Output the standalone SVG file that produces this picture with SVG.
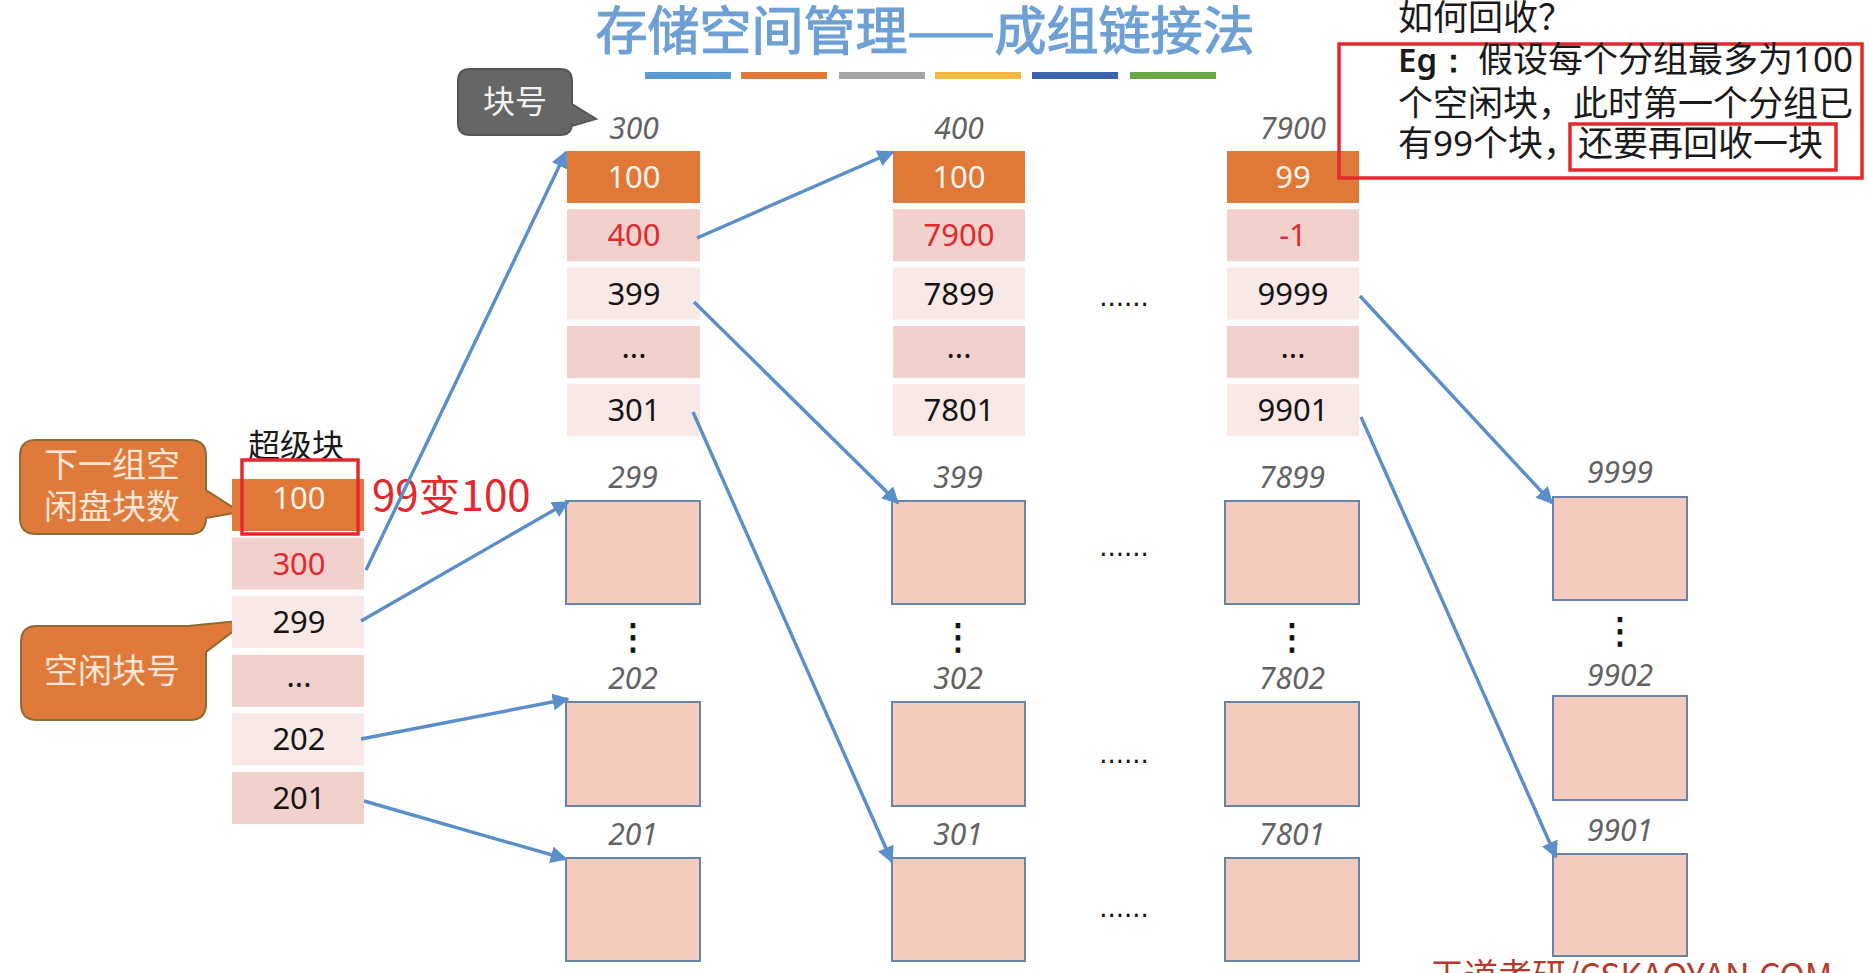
<svg xmlns="http://www.w3.org/2000/svg" width="1869" height="973" viewBox="0 0 1869 973">
<style>
.title{font-family:"Noto Sans CJK SC","Noto Sans",sans-serif;font-size:52px;font-weight:400;fill:#6ea0d4;stroke:#6ea0d4;stroke-width:1.2}
.num{font-family:"Noto Sans","Open Sans",sans-serif;font-size:31px;text-anchor:middle}
.lbl{font-family:"Noto Sans","Open Sans",sans-serif;font-size:30px;font-style:italic;fill:#626262;text-anchor:middle}
.cjk{font-family:"Noto Sans CJK SC",sans-serif}
.ora{fill:#e07838}
.pk{fill:#f2d1cc}
.lt{fill:#f9e9e6}
.w{fill:#fff3ea}
.r{fill:#e3282e}
.k{fill:#141414}
.box{fill:#f5cbbd;stroke:#6585aa;stroke-width:2}
.dots{font-family:"DejaVu Sans",sans-serif;font-size:26px;fill:#111;text-anchor:middle}
.vd{font-family:"Noto Sans","DejaVu Sans",sans-serif;font-size:36px;fill:#111;stroke:#111;stroke-width:0.8;text-anchor:middle}
.conn line{stroke:#5a8fca;stroke-width:3.4;marker-end:url(#ah)}
.note{font-family:"Noto Sans CJK SC",sans-serif;font-size:35px;fill:#1a1a1a}
</style>
<defs>
<marker id="ah" viewBox="0 0 10 10" refX="9" refY="5" markerWidth="5" markerHeight="5" orient="auto" markerUnits="strokeWidth">
<path d="M0,0 L10,5 L0,10 z" fill="#5a8fca"/>
</marker>
</defs>
<rect width="1869" height="973" fill="#ffffff"/>

<g id="title">
<text class="title" x="925" y="50" text-anchor="middle">存储空间管理——成组链接法</text>
<rect x="645" y="72" width="86" height="7" fill="#5b9bd5"/>
<rect x="741" y="72" width="86" height="7" fill="#e07a3a"/>
<rect x="839" y="72" width="86" height="7" fill="#a5a5a5"/>
<rect x="935" y="72" width="86" height="7" fill="#f4b93e"/>
<rect x="1032" y="72" width="86" height="7" fill="#3b64ad"/>
<rect x="1130" y="72" width="86" height="7" fill="#6aa747"/>
</g>

<g id="callout-blockno">
<path d="M470,69 H560 Q572,69 572,81 V104 L596,119 L572,126 V123 Q572,135 560,135 H470 Q458,135 458,123 V81 Q458,69 470,69 Z" fill="#666666" stroke="#555555" stroke-width="2"/>
<text class="cjk" x="515" y="113" font-size="32" fill="#f2f2f2" text-anchor="middle">块号</text>
</g>

<g id="callout-next">
<path d="M36,440 H190 Q206,440 206,456 V490 L240,512 L206,518 V518 Q206,534 190,534 H36 Q20,534 20,518 V456 Q20,440 36,440 Z" fill="#e07a3a" stroke="#8f6a32" stroke-width="2"/>
<text class="cjk" x="112" y="477" font-size="34" fill="#fce6d8" text-anchor="middle">下一组空</text>
<text class="cjk" x="112" y="519" font-size="34" fill="#fce6d8" text-anchor="middle">闲盘块数</text>
</g>

<g id="callout-free">
<path d="M37,626 H188 L248,620 L206,652 V704 Q206,720 190,720 H37 Q21,720 21,704 V642 Q21,626 37,626 Z" fill="#e07a3a" stroke="#8f6a32" stroke-width="2"/>
<text class="cjk" x="112" y="683" font-size="34" fill="#fce6d8" text-anchor="middle">空闲块号</text>
</g>

<g id="superblock">
<text class="cjk" x="296" y="457" font-size="32" fill="#1a1a1a" text-anchor="middle">超级块</text>
<rect class="ora" x="232" y="479" width="132" height="52"/>
<rect class="pk" x="232" y="537.6" width="132" height="52"/>
<rect class="lt" x="232" y="596.2" width="132" height="52"/>
<rect class="pk" x="232" y="654.8" width="132" height="52"/>
<rect class="lt" x="232" y="713.4" width="132" height="52"/>
<rect class="pk" x="232" y="772" width="132" height="52"/>
<text class="num w" x="299" y="509">100</text>
<text class="num r" x="299" y="574.6">300</text>
<text class="num k" x="299" y="633.2">299</text>
<text class="num k" x="299" y="687">...</text>
<text class="num k" x="299" y="750.4">202</text>
<text class="num k" x="299" y="809">201</text>
<rect x="242" y="460" width="116" height="74" fill="none" stroke="#e3282e" stroke-width="3.5"/>
<text class="cjk" x="372" y="511" font-size="42" fill="#e3282e">99变100</text>
</g>

<g id="group-300">
<text class="lbl" x="634" y="139">300</text>
<rect class="ora" x="567" y="151" width="133" height="52"/>
<rect class="pk" x="567" y="209.3" width="133" height="52"/>
<rect class="lt" x="567" y="267.6" width="133" height="52"/>
<rect class="pk" x="567" y="325.9" width="133" height="52"/>
<rect class="lt" x="567" y="384.2" width="133" height="52"/>
<text class="num w" x="634" y="188">100</text>
<text class="num r" x="634" y="246.3">400</text>
<text class="num k" x="634" y="304.6">399</text>
<text class="num k" x="634" y="358">...</text>
<text class="num k" x="634" y="421.2">301</text>
</g>

<g id="group-400">
<text class="lbl" x="959" y="139">400</text>
<rect class="ora" x="893" y="151" width="132" height="52"/>
<rect class="pk" x="893" y="209.3" width="132" height="52"/>
<rect class="lt" x="893" y="267.6" width="132" height="52"/>
<rect class="pk" x="893" y="325.9" width="132" height="52"/>
<rect class="lt" x="893" y="384.2" width="132" height="52"/>
<text class="num w" x="959" y="188">100</text>
<text class="num r" x="959" y="246.3">7900</text>
<text class="num k" x="959" y="304.6">7899</text>
<text class="num k" x="959" y="358">...</text>
<text class="num k" x="959" y="421.2">7801</text>
</g>

<text class="dots" x="1124" y="306">......</text>

<g id="group-7900">
<text class="lbl" x="1293" y="139">7900</text>
<rect class="ora" x="1227" y="151" width="132" height="52"/>
<rect class="pk" x="1227" y="209.3" width="132" height="52"/>
<rect class="lt" x="1227" y="267.6" width="132" height="52"/>
<rect class="pk" x="1227" y="325.9" width="132" height="52"/>
<rect class="lt" x="1227" y="384.2" width="132" height="52"/>
<text class="num w" x="1293" y="188">99</text>
<text class="num r" x="1293" y="246.3">-1</text>
<text class="num k" x="1293" y="304.6">9999</text>
<text class="num k" x="1293" y="358">...</text>
<text class="num k" x="1293" y="421.2">9901</text>
</g>

<g id="blocks-a">
<text class="lbl" x="633" y="488">299</text>
<rect class="box" x="566" y="501" width="134" height="103"/>
<text class="vd" x="633" y="649">⋮</text>
<text class="lbl" x="633" y="689">202</text>
<rect class="box" x="566" y="702" width="134" height="104"/>
<text class="lbl" x="633" y="845">201</text>
<rect class="box" x="566" y="858" width="134" height="103"/>
</g>

<g id="blocks-b">
<text class="lbl" x="958" y="488">399</text>
<rect class="box" x="892" y="501" width="133" height="103"/>
<text class="vd" x="958" y="649">⋮</text>
<text class="lbl" x="958" y="689">302</text>
<rect class="box" x="892" y="702" width="133" height="104"/>
<text class="lbl" x="958" y="845">301</text>
<rect class="box" x="892" y="858" width="133" height="103"/>
</g>

<g id="blocks-c">
<text class="lbl" x="1292" y="488">7899</text>
<rect class="box" x="1225" y="501" width="134" height="103"/>
<text class="vd" x="1292" y="649">⋮</text>
<text class="lbl" x="1292" y="689">7802</text>
<rect class="box" x="1225" y="702" width="134" height="104"/>
<text class="lbl" x="1292" y="845">7801</text>
<rect class="box" x="1225" y="858" width="134" height="103"/>
</g>

<g id="blocks-d">
<text class="lbl" x="1620" y="483">9999</text>
<rect class="box" x="1553" y="497" width="134" height="103"/>
<text class="vd" x="1620" y="643">⋮</text>
<text class="lbl" x="1620" y="686">9902</text>
<rect class="box" x="1553" y="696" width="134" height="104"/>
<text class="lbl" x="1620" y="841">9901</text>
<rect class="box" x="1553" y="854" width="134" height="102"/>
</g>

<text class="dots" x="1124" y="556">......</text>
<text class="dots" x="1124" y="763">......</text>
<text class="dots" x="1124" y="917">......</text>

<g class="conn" id="connectors">
<line x1="366" y1="570" x2="566" y2="152"/>
<line x1="361" y1="621" x2="568" y2="502"/>
<line x1="361" y1="739" x2="568" y2="699"/>
<line x1="364" y1="801" x2="566" y2="859"/>
<line x1="697" y1="238" x2="893" y2="152"/>
<line x1="694" y1="302" x2="898" y2="503"/>
<line x1="693" y1="412" x2="892" y2="862"/>
<line x1="1360" y1="296" x2="1552" y2="503"/>
<line x1="1361" y1="417" x2="1556" y2="857"/>
</g>

<g id="note">
<text class="note" x="1398" y="30" font-size="33">如何回收？</text>
<rect x="1339" y="44" width="523" height="134" fill="none" stroke="#e3282e" stroke-width="3.5"/>
<text class="note" x="1398" y="72"><tspan font-family="Noto Sans, sans-serif" font-weight="600" font-size="33">Eg：</tspan> 假设每个分组最多为<tspan font-family="Noto Sans, sans-serif">100</tspan></text>
<text class="note" x="1398" y="116">个空闲块，此时第一个分组已</text>
<text class="note" x="1398" y="156">有<tspan font-family="Noto Sans, sans-serif">99</tspan>个块，还要再回收一块</text>
<rect x="1570" y="124" width="266" height="46" fill="none" stroke="#e3282e" stroke-width="3.5"/>
</g>

<text class="cjk" x="1430" y="988" font-size="34" fill="#b5392c">王道考研/CSKAOYAN.COM</text>
</svg>
